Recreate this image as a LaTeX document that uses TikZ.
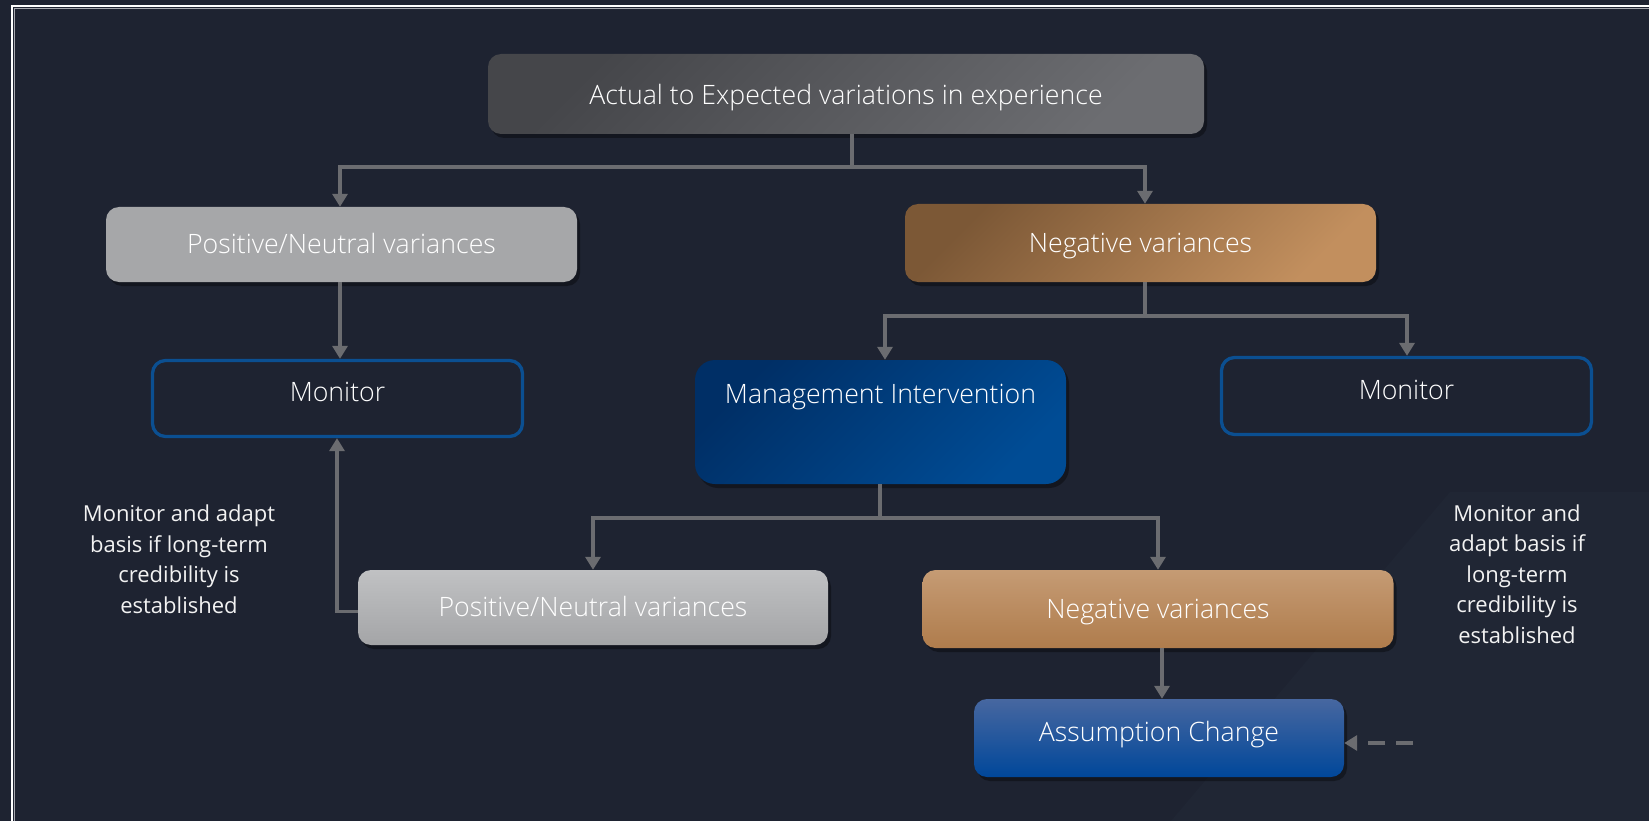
\documentclass[tikz,border=0pt]{standalone}
\usepackage{fontspec}
\setmainfont{Open Sans}
\newfontfamily\lightfont{Open Sans Light}
\usetikzlibrary{arrows.meta,shadows,calc}
\definecolor{bg}{HTML}{1E2331}
\definecolor{bglight}{HTML}{202634}
\definecolor{connc}{HTML}{6B6C70}
\definecolor{topa}{HTML}{45464A}
\definecolor{topb}{HTML}{6C6D71}
\definecolor{pnone}{HTML}{A6A7A9}
\definecolor{nega}{HTML}{7C5836}
\definecolor{negb}{HTML}{C28F5E}
\definecolor{mia}{HTML}{002F66}
\definecolor{mib}{HTML}{004C95}
\definecolor{pna}{HTML}{C0C1C3}
\definecolor{pnb}{HTML}{A4A5A7}
\definecolor{negta}{HTML}{C59B74}
\definecolor{negtb}{HTML}{AF7C4C}
\definecolor{asa}{HTML}{4767A0}
\definecolor{asb}{HTML}{00479A}
\definecolor{monc}{HTML}{0B4F91}
\definecolor{notec}{HTML}{F2F2F2}
\begin{document}
\begin{tikzpicture}[x=1pt,y=-1pt,
  base/.style={rectangle, rounded corners=13pt, inner sep=0pt, text=white,
    font=\lightfont\fontsize{26.7}{30}\selectfont, text height=18pt, text depth=0pt},
  shadowed/.style={drop shadow={shadow xshift=3pt, shadow yshift=-4pt, opacity=0.35, fill=black}},
  diag/.style 2 args={shading=axis, top color=#1, bottom color=#2, shading angle=45},
  monbox/.style={base, draw=monc, line width=3.3pt, fill=bg, text height=14pt, text depth=8pt},
  conn/.style={draw=connc, line width=3.3pt},
  arr/.style={conn, -{Triangle[length=13pt,width=15pt]}},
  dasharr/.style={arr, dash pattern=on 17pt off 11pt},
  note/.style={text=notec, font=\fontsize{22}{30.5}\selectfont, align=center}
]
\useasboundingbox (0,0) rectangle (1649,821);
\fill[bg] (0,0) rectangle (1649,821);
\fill[bglight] (1450,492) -- (1649,492) -- (1649,821) -- (1171,821) -- cycle;
\begin{scope}
\clip (0,0) rectangle (1649,821);
\draw[white, line width=2pt] (1660,6) -- (12,6) -- (12,830);
\draw[white!60!bg, line width=1pt] (1660,8.5) -- (14.5,8.5) -- (14.5,830);
\end{scope}

% boxes
\node[base, shadowed, diag={topa}{topb}, minimum width=716pt, minimum height=80pt, text height=21pt] (top) at (846,94) {Actual to Expected variations in experience};
\node[base, shadowed, fill=pnone, minimum width=471pt, minimum height=75pt] (pn1) at (341.5,244.5) {Positive/Neutral variances};
\node[base, shadowed, diag={nega}{negb}, minimum width=471pt, minimum height=78pt] (neg1) at (1140.5,243) {Negative variances};
\node[monbox, minimum width=370pt, minimum height=76pt] (mon1) at (337.5,398.5) {Monitor};
\node[monbox, minimum width=370pt, minimum height=77pt] (mon2) at (1406.5,396) {Monitor};
\node[base, shadowed, rounded corners=20pt, diag={mia}{mib}, minimum width=371pt, minimum height=124pt, text height=14pt, text depth=52pt] (mi) at (880.5,422) {Management Intervention};
\node[base, shadowed, top color=pna, bottom color=pnb, minimum width=470pt, minimum height=75pt] (pn2) at (593,607.5) {Positive/Neutral variances};
\node[base, shadowed, top color=negta, bottom color=negtb, minimum width=471pt, minimum height=78pt] (neg2) at (1158,609) {Negative variances};
\node[base, shadowed, top color=asa, bottom color=asb, minimum width=370pt, minimum height=78pt, text height=14pt, text depth=8pt] (as) at (1159,738) {Assumption Change};

% notes
\node[note] (noteL) at (179,559) {Monitor and adapt\\basis if long-term\\credibility is\\established};
\node[note] (noteR) at (1517,574) {Monitor and\\adapt basis if\\long-term\\credibility is\\established};

% connectors
\coordinate (j1) at (852,167);
\draw[conn] (top.south -| j1) -- (j1);
\draw[arr] (j1) -| ([xshift=-1.5pt]pn1.north);
\draw[arr] (j1) -| ([xshift=4.5pt]neg1.north);
\draw[arr] ([xshift=-1.5pt]pn1.south) -- ([xshift=2.5pt]mon1.north);

\coordinate (j2) at (1145,316);
\draw[conn] (neg1.south -| j2) -- (j2);
\draw[arr] (j2) -| ([xshift=4.5pt]mi.north);
\draw[arr] (j2) -| ([xshift=0.5pt]mon2.north);

\coordinate (j3) at (880,518);
\draw[conn] (mi.south -| j3) -- (j3);
\draw[arr] (j3) -| (pn2.north);
\draw[arr] (j3) -| (neg2.north);

\coordinate (j4) at (337,611.7);
\draw[arr] (pn2.west |- j4) -- (j4) -- (j4 |- mon1.south);
\draw[arr] ([xshift=4pt]neg2.south) -- ([xshift=3pt]as.north);

\coordinate (dstart) at (1413,743);
\draw[dasharr] (dstart) -- (dstart -| as.east);
\end{tikzpicture}
\end{document}
